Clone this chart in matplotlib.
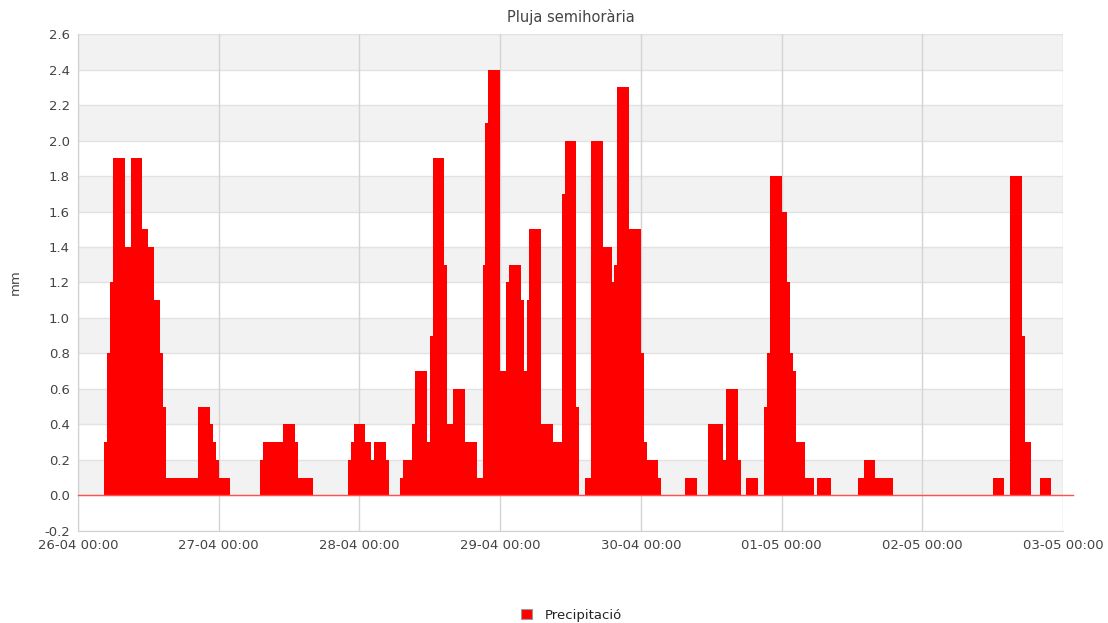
import numpy as np
import pandas as pd
import matplotlib
matplotlib.use('Agg')
from matplotlib import pyplot as plt
import matplotlib.dates as mdates

# precipitacio semihoraria (mm), 48 valors per dia
dia_26 = [0]*9 + [0.3, 0.8, 1.2] + [1.9]*4 + [1.4]*2 + [1.9]*4 + [1.5]*2 + [1.4]*2 + [1.1]*2 + \
         [0.8, 0.5] + [0.1]*11 + [0.5]*4 + [0.4, 0.3, 0.2]
dia_27 = [0.1]*4 + [0]*10 + [0.2] + [0.3]*7 + [0.4]*4 + [0.3] + [0.1]*5 + [0]*12 + [0.2, 0.3] + [0.4]*2
dia_28 = [0.4]*2 + [0.3]*2 + [0.2] + [0.3]*4 + [0.2] + [0]*4 + [0.1] + [0.2]*3 + [0.4] + [0.7]*4 + \
         [0.3, 0.9] + [1.9]*4 + [1.3] + [0.4]*2 + [0.6]*4 + [0.3]*4 + [0.1]*2 + [1.3, 2.1] + [2.4]*4
dia_29 = [0.7]*2 + [1.2] + [1.3]*4 + [1.1, 0.7, 1.1] + [1.5]*4 + [0.4]*4 + [0.3]*3 + [1.7] + [2.0]*4 + \
         [0.5] + [0]*2 + [0.1]*2 + [2.0]*4 + [1.4]*3 + [1.2, 1.3] + [2.3]*4 + [1.5]*4
dia_30 = [0.8, 0.3] + [0.2]*4 + [0.1] + [0]*8 + [0.1]*4 + [0]*4 + [0.4]*5 + [0.2] + [0.6]*4 + [0.2] + \
         [0]*2 + [0.1]*4 + [0]*2 + [0.5, 0.8] + [1.8]*4
dia_01 = [1.6]*2 + [1.2, 0.8, 0.7] + [0.3]*3 + [0.1]*3 + [0] + [0.1]*5 + [0]*9 + [0.1]*2 + [0.2]*4 + \
         [0.1]*6 + [0]*10
dia_02 = [0]*24 + [0.1]*4 + [0]*2 + [1.8]*4 + [0.9] + [0.3]*2 + [0]*3 + [0.1]*4 + [0]*4

valors = dia_26 + dia_27 + dia_28 + dia_29 + dia_30 + dia_01 + dia_02
temps = pd.date_range('2024-04-26 00:00', periods=len(valors), freq='30min')
dies = pd.date_range('2024-04-26', '2024-05-03', freq='D')

fig = plt.figure(figsize=(11.08, 6.23), dpi=100)
ax = fig.add_axes([0.0704, 0.1477, 0.889, 0.7977])

# bandes alternes
for k, y0 in enumerate(np.arange(-0.2, 2.6, 0.2)):
    if k % 2 == 1:
        ax.axhspan(y0, y0 + 0.2, color='#f2f2f2', zorder=0, lw=0)
for y in np.arange(-0.2, 2.61, 0.2):
    ax.axhline(y, color='#e2e2e2', lw=1, zorder=1)
for d in dies:
    ax.axvline(d, color='#d4d4d4', lw=1, zorder=1)

ax.bar(temps, valors, width=1/48, align='edge', color='#ff0000', lw=0, zorder=2,
       label='Precipitació')
ax.plot([0, 1.01], [0.2/2.8, 0.2/2.8], transform=ax.transAxes, color='#ff5050', lw=1,
        clip_on=False, zorder=3)

ax.set_xlim(dies[0], dies[-1])
ax.set_ylim(-0.2, 2.6)
ax.set_yticks(np.arange(-0.2, 2.61, 0.2))
ax.yaxis.set_major_formatter(plt.FuncFormatter(lambda v, p: '%.1f' % (0.0 if abs(v) < 1e-9 else v)))
ax.set_xticks(dies)
ax.xaxis.set_major_formatter(mdates.DateFormatter('%d-%m %H:%M'))
ax.tick_params(length=0, labelsize=9.5, colors='#444444', pad=6)
for s in ['top', 'right']:
    ax.spines[s].set_visible(False)
for s in ['left', 'bottom']:
    ax.spines[s].set_color('#d0d0d0')

ax.set_ylabel('mm', fontsize=9.5, color='#444444', labelpad=16)
ax.set_title('Pluja semihorària', fontsize=10.5, color='#444444', pad=9)

leg = fig.legend(loc='lower center', bbox_to_anchor=(0.516, -0.017), frameon=False, fontsize=9.5,
                 handlelength=0.8, handleheight=0.8, handletextpad=1.0, labelcolor='#222222')
leg.legend_handles[0].set_edgecolor('#999999')
leg.legend_handles[0].set_linewidth(0.8)

plt.savefig('out.png', dpi=100)
